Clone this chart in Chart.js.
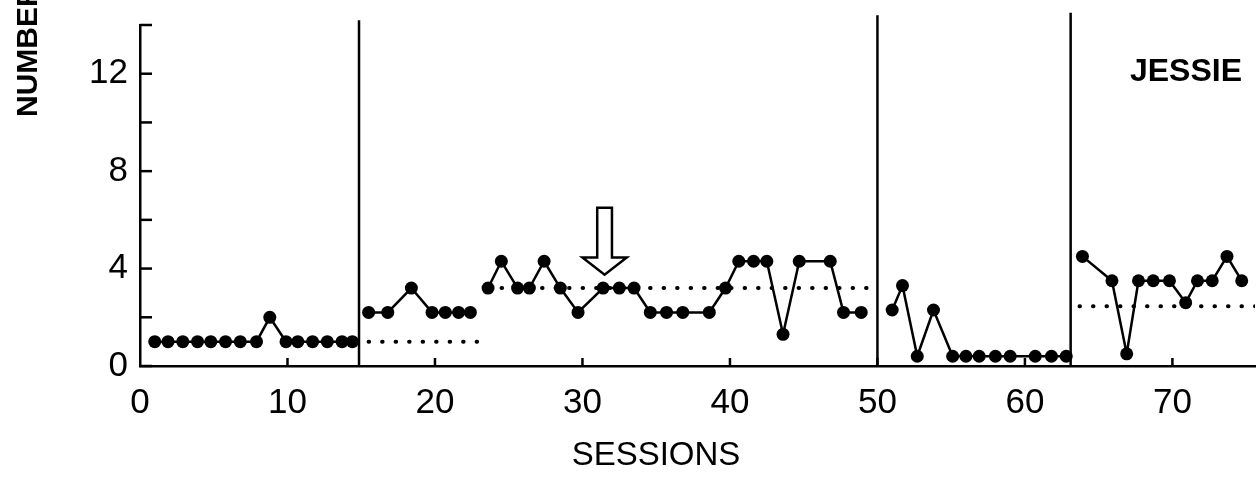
<!DOCTYPE html>
<html>
<head>
<meta charset="utf-8">
<script src="https://cdn.jsdelivr.net/npm/chart.js@4"></script>
<style>
  html, body { margin: 0; padding: 0; background: #fff; }
  canvas { display: block; }
</style>
</head>
<body>
<canvas id="chart" width="1260" height="487"></canvas>
<script>
// sessions (x) and counts (y), one pair of arrays per phase
const phase1Sessions = [1.0, 1.9, 2.9, 3.9, 4.8, 5.8, 6.8, 7.9, 8.8, 9.9, 10.7, 11.7, 12.7, 13.7, 14.4];
const phase1Values = [1, 1, 1, 1, 1, 1, 1, 1, 2, 1, 1, 1, 1, 1, 1];
const phase2Sessions = [15.5, 16.8, 18.4, 19.8, 20.7, 21.6, 22.4];
const phase2Values = [2.2, 2.2, 3.2, 2.2, 2.2, 2.2, 2.2];
const phase3Sessions = [23.6, 24.5, 25.6, 26.4, 27.4, 28.5, 29.7, 31.4, 32.5, 33.5, 34.6, 35.7,
  36.8, 38.6, 39.7, 40.6, 41.6, 42.5, 43.6, 44.7, 46.8, 47.7, 48.9];
const phase3Values = [3.2, 4.3, 3.2, 3.2, 4.3, 3.2, 2.2, 3.2, 3.2, 3.2, 2.2, 2.2,
  2.2, 2.2, 3.2, 4.3, 4.3, 4.3, 1.3, 4.3, 4.3, 2.2, 2.2];
const phase4Sessions = [51.0, 51.7, 52.7, 53.8, 55.1, 56.0, 56.9, 58.0, 59.0, 60.7, 61.8, 62.8];
const phase4Values = [2.3, 3.3, 0.4, 2.3, 0.4, 0.4, 0.4, 0.4, 0.4, 0.4, 0.4, 0.4];
const phase5Sessions = [63.9, 65.9, 66.9, 67.7, 68.7, 69.8, 70.9, 71.7, 72.7, 73.7, 74.7];
const phase5Values = [4.5, 3.5, 0.5, 3.5, 3.5, 3.5, 2.6, 3.5, 3.5, 4.5, 3.5];

// phase change lines and the dotted reference levels
const phaseChanges = [14.85, 50.0, 63.1];
const phaseLineTops = [14.2, 14.4, 14.5];
const meanStarts = [15.5, 23.6, 63.7];
const meanEnds = [23.0, 49.8, 75.6];
const meanLevels = [1.0, 3.2, 2.45];

// hollow arrow marking session ~31
const arrowSession = 31.5;
const arrowTop = 6.5;
const arrowNeck = 4.45;
const arrowTip = 3.75;

const xTickLabels = [0, 10, 20, 30, 40, 50, 60, 70];
const yTickLabels = [0, 4, 8, 12];

const FONT = '"Liberation Sans", Arial, sans-serif';

function toPoints(xs, ys) {
  return xs.map((x, i) => ({ x: x, y: ys[i] }));
}

const datasets = [];

[[phase1Sessions, phase1Values], [phase2Sessions, phase2Values], [phase3Sessions, phase3Values],
  [phase4Sessions, phase4Values], [phase5Sessions, phase5Values]].forEach(([xs, ys]) => {
  datasets.push({
    data: toPoints(xs, ys),
    borderColor: '#000',
    backgroundColor: '#000',
    borderWidth: 2.5,
    pointRadius: 6.5,
    pointBackgroundColor: '#000',
    pointBorderWidth: 0,
    tension: 0,
  });
});

meanLevels.forEach((lvl, i) => {
  datasets.push({
    data: [{ x: meanStarts[i], y: lvl }, { x: meanEnds[i], y: lvl }],
    borderColor: '#000',
    borderWidth: 4,
    borderDash: [0.5, 13],
    borderCapStyle: 'round',
    pointRadius: 0,
  });
});

phaseChanges.forEach((x, i) => {
  datasets.push({
    data: [{ x: x, y: 0 }, { x: x, y: phaseLineTops[i] }],
    borderColor: '#000',
    borderWidth: 2.5,
    pointRadius: 0,
    clip: false,
  });
});

// inward tick marks, the arrow and the free text
const extras = {
  id: 'extras',
  afterDatasetsDraw(chart) {
    const { ctx, chartArea } = chart;
    const xs = chart.scales.x;
    const ys = chart.scales.y;
    ctx.save();
    ctx.strokeStyle = '#000';
    ctx.lineWidth = 2.5;

    // y ticks every 2, pointing into the plot
    for (let v = 0; v <= 14; v += 2) {
      const py = ys.getPixelForValue(v);
      ctx.beginPath();
      ctx.moveTo(chartArea.left, py);
      ctx.lineTo(chartArea.left + 12, py);
      ctx.stroke();
    }
    // x ticks every 10, pointing up
    xTickLabels.slice(1).forEach(v => {
      const px = xs.getPixelForValue(v);
      ctx.beginPath();
      ctx.moveTo(px, chartArea.bottom);
      ctx.lineTo(px, chartArea.bottom - 8);
      ctx.stroke();
    });

    // hollow down arrow
    const cx = xs.getPixelForValue(arrowSession);
    const shaft = xs.getPixelForValue(arrowSession + 0.5) - cx;
    const head = xs.getPixelForValue(arrowSession + 1.5) - cx;
    const yTop = ys.getPixelForValue(arrowTop);
    const yNeck = ys.getPixelForValue(arrowNeck);
    const yTip = ys.getPixelForValue(arrowTip);
    ctx.beginPath();
    ctx.moveTo(cx - shaft, yTop);
    ctx.lineTo(cx + shaft, yTop);
    ctx.lineTo(cx + shaft, yNeck);
    ctx.lineTo(cx + head, yNeck);
    ctx.lineTo(cx, yTip);
    ctx.lineTo(cx - head, yNeck);
    ctx.lineTo(cx - shaft, yNeck);
    ctx.closePath();
    ctx.fillStyle = '#fff';
    ctx.fill();
    ctx.stroke();

    // texts
    ctx.fillStyle = '#000';
    ctx.textAlign = 'center';
    ctx.textBaseline = 'middle';
    ctx.font = 'bold 32px ' + FONT;
    ctx.fillText('JESSIE', 1186, 72);
    ctx.font = '33px ' + FONT;
    ctx.fillText('SESSIONS', 656, 456);

    ctx.translate(37, 117);
    ctx.rotate(-Math.PI / 2);
    ctx.font = 'bold 30px ' + FONT;
    ctx.textAlign = 'left';
    ctx.textBaseline = 'alphabetic';
    ctx.fillText('NUMBER', 0, 0);
    ctx.restore();
  },
};

new Chart(document.getElementById('chart'), {
  type: 'line',
  data: { datasets: datasets },
  options: {
    responsive: false,
    animation: false,
    devicePixelRatio: 1,
    layout: { autoPadding: false, padding: { top: 25, right: 5, bottom: 0, left: 0 } },
    plugins: { legend: { display: false }, tooltip: { enabled: false } },
    scales: {
      x: {
        type: 'linear',
        min: 0,
        max: 75.6,
        afterFit: scale => {
          scale.height = 121;
          scale.paddingLeft = 0;
          scale.paddingRight = 0;
        },
        grid: { display: false, drawTicks: false },
        border: { display: true, color: '#000', width: 2.5 },
        ticks: {
          stepSize: 10,
          includeBounds: false,
          padding: 16,
          color: '#000',
          font: { family: FONT, size: 35 },
          maxRotation: 0,
          callback: v => (xTickLabels.includes(v) ? String(v) : ''),
        },
      },
      y: {
        min: 0,
        max: 14,
        afterFit: scale => {
          scale.width = 140;
          scale.paddingTop = 0;
          scale.paddingBottom = 0;
        },
        grid: { display: false, drawTicks: false },
        border: { display: true, color: '#000', width: 2.5 },
        ticks: {
          stepSize: 2,
          padding: 12,
          color: '#000',
          font: { family: FONT, size: 35 },
          callback: v => (yTickLabels.includes(v) ? String(v) : ''),
        },
      },
    },
  },
  plugins: [extras],
});
</script>
</body>
</html>
